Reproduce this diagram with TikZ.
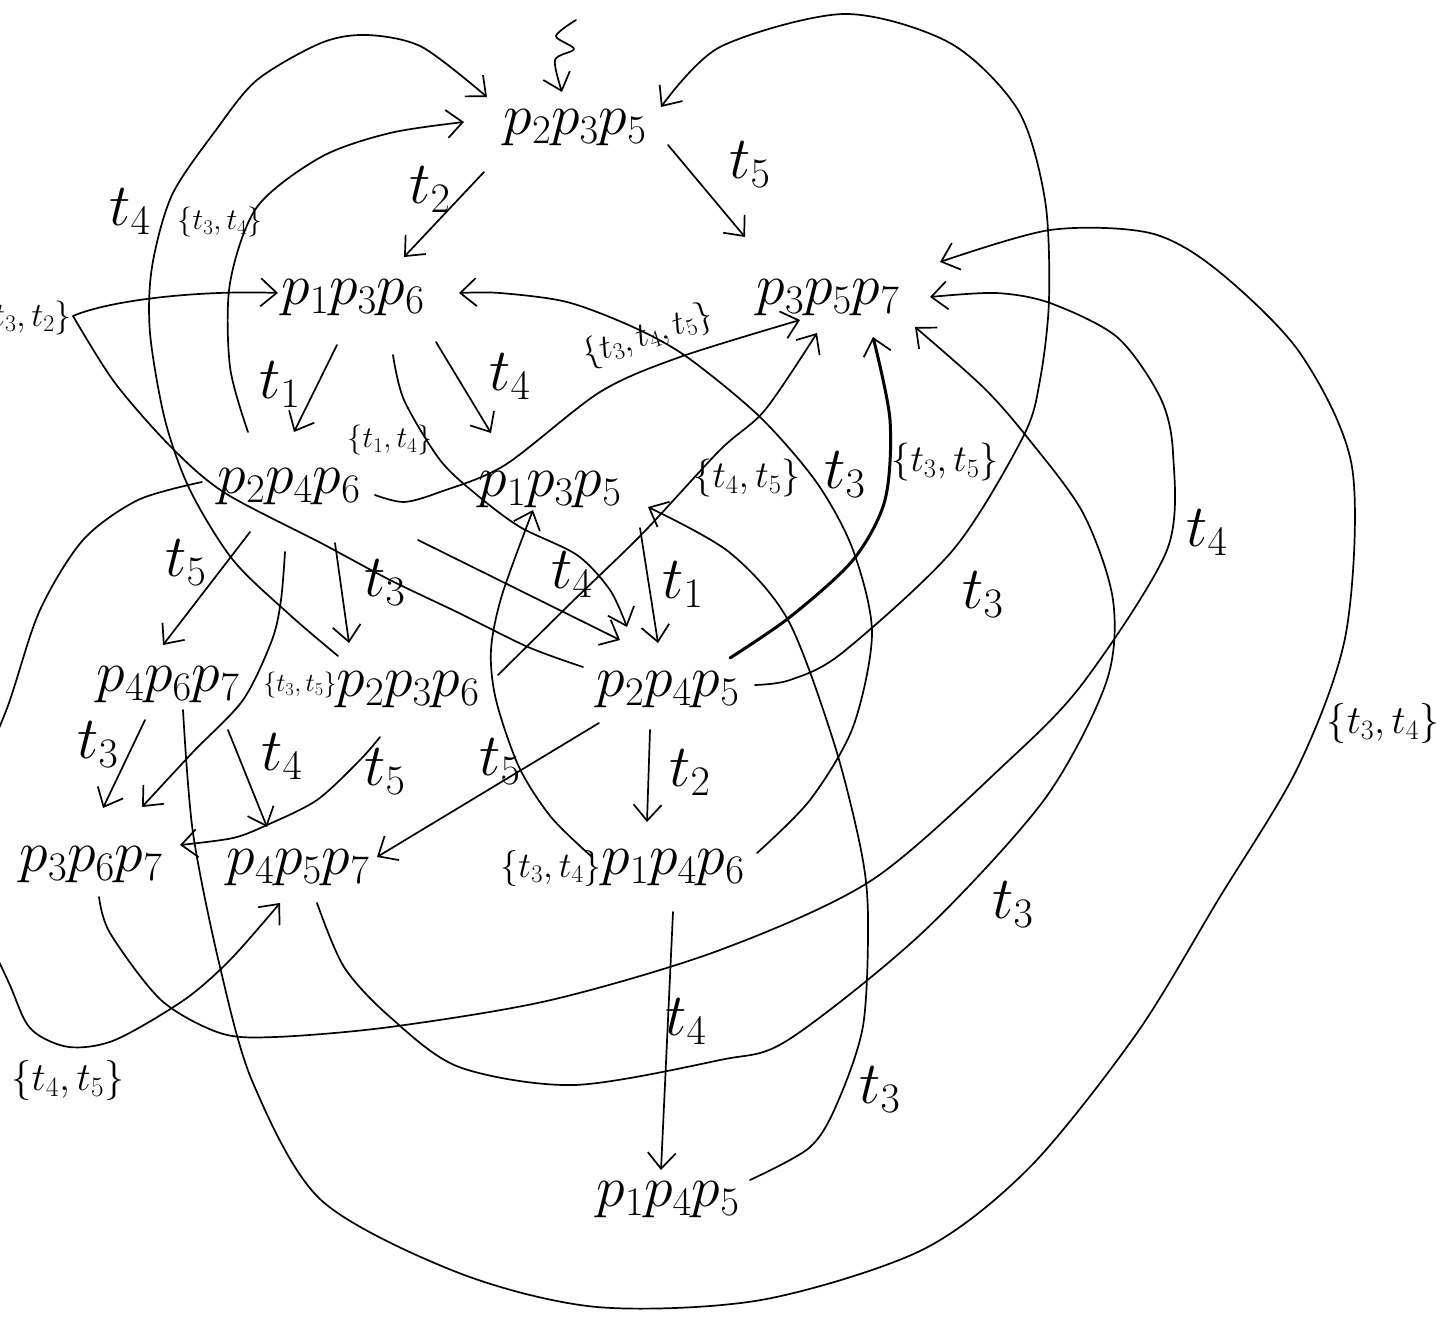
\documentclass[tikz,border=0pt]{standalone}
\usepackage{fix-cm}
\usetikzlibrary{arrows.meta,calc}
\begin{document}
\begin{tikzpicture}[x=1pt,y=-1pt,
  state/.style={inner sep=0pt, font=\fontsize{58}{62}\selectfont},
  lbl/.style={inner sep=0pt, font=\fontsize{60}{64}\selectfont},
  setlbl/.style={inner sep=0pt, font=\fontsize{#1}{#1}\selectfont},
  setlbl/.default=34,
  edge/.style={line width=1.7pt, line cap=round, line join=round,
    -{Straight Barb[length=16pt,width=28pt,line width=1.7pt]}},
  plain/.style={line width=1.7pt, line cap=round, line join=round},
  boldedge/.style={edge, line width=3pt},
]
\fill[white] (0,0) rectangle (1442,1317);
\useasboundingbox (0,0) rectangle (1442,1317);

% markings
\node[state] (A) at (575,128) {$p_2p_3p_5$};
\node[state] (B) at (353,298) {$p_1p_3p_6$};
\node[state] (C) at (828,298) {$p_3p_5p_7$};
\node[state] (D) at (289,487) {$p_2p_4p_6$};
\node[state] (E) at (550,490) {$p_1p_3p_5$};
\node[state] (F) at (168,685) {$p_4p_6p_7$};
\node[state] (G) at (408,690) {$p_2p_3p_6$};
\node[state] (H) at (668,690) {$p_2p_4p_5$};
\node[state] (I) at (91,865) {$p_3p_6p_7$};
\node[state] (J) at (298,868) {$p_4p_5p_7$};
\node[state] (K) at (673,868) {$p_1p_4p_6$};
\node[state] (L) at (668,1200) {$p_1p_4p_5$};

% initial marking
\coordinate (init) at (576,20);
\draw[edge] plot[smooth] coordinates {(init) (556,36) (574,49) (555,60) ($(A)+(-13,-36)$)};

% short steps
\draw[edge] ($(A)+(-91,44)$) -- ($(B)+(51,-41)$);
\draw[edge] ($(A)+(93,17)$) -- ($(C)+(-83,-61)$);
\draw[edge] ($(B)+(-16,47)$) -- ($(D)+(5,-55)$);
\draw[edge] ($(B)+(83,44)$) -- ($(E)+(-59,-57)$);
\draw[edge] ($(D)+(-39,45)$) -- ($(F)+(-5,-40)$);
\draw[edge] ($(D)+(46,56)$) -- ($(G)+(-59,-47)$);
\draw[edge] ($(D)+(129,53)$) -- ($(H)+(-48,-50)$);
\draw[edge] ($(E)+(90,38)$) -- ($(H)+(-10,-47)$);
\draw[edge] ($(F)+(-23,35)$) -- ($(I)+(12,-57)$);
\draw[edge] ($(F)+(60,45)$) -- ($(J)+(-31,-41)$);
\draw[edge] ($(H)+(-69,33)$) -- ($(J)+(79,-11)$);
\draw[edge] ($(H)+(-18,40)$) -- ($(K)+(-26,-46)$);
\draw[edge] ($(K)+(0,44)$) -- ($(L)+(-7,-30)$);

% curved steps
\draw[edge] plot[smooth] coordinates {($(B)+(40,57)$) (404,400) (440,460) (477,495) (520,527) (577,555) (610,590) ($(H)+(-41,-63)$)};
\draw[edge] plot[smooth] coordinates {($(D)+(-4,65)$) (281,600) (272,640) (243,700) (193,752) ($(I)+(51,-58)$)};
\draw[edge] plot[smooth] coordinates {($(D)+(-41,-55)$) (230,367) (230,283) (257,207) (321,157) (390,133) ($(A)+(-111,-6)$)};
\draw[edge] plot[smooth] coordinates {($(G)+(-70,-34)$) (290,615) (233,560) (190,490) (165,420) (150,333) (152,267) (172,195) (216,130) (257,80) (321,43) (367,35) (422,47) ($(A)+(-88,-31)$)};
\draw[edge] plot[smooth] coordinates {($(D)+(-87,-5)$) (138,500) (83,540) (40,610) (10,700) (-40,850) (12,990) (32,1030) (69,1047) (115,1040) (184,1000) (230,960) ($(J)+(-18,35)$)};
\draw[edge] plot[smooth] coordinates {($(D)+(86,8)$) (404,502) (440,492) (505,465) (600,392) (680,357) ($(C)+(-28,22)$)};
\draw[edge] plot[smooth] coordinates {($(F)+(15,25)$) (193,833) (220,967) (253,1083) (321,1200) (459,1273) (597,1307) (761,1300) (922,1250) (1030,1167) (1137,1033) (1218,900) (1298,767) (1346,633) (1352,467) (1300,353) (1217,270) (1150,233) (1050,230) ($(C)+(112,-36)$)};
\draw[edge] plot[smooth] coordinates {($(G)+(-28,47)$) (360,760) (317,800) (267,825) (233,838) ($(I)+(89,-20)$)};
\draw[edge] plot[smooth] coordinates {($(G)+(90,-15)$) (574,600) (643,533) (720,450) (765,410) ($(C)+(-11,35)$)};
\coordinate (bend) at (73,316);
\draw[plain] plot[smooth] coordinates {($(H)+(-85,-23)$) (528,647) (459,613) (390,580) (321,543) (225,493) (172,448) (115,383) (bend)};
\draw[edge] (bend) .. controls (110,300) and (200,290) .. ($(B)+(-75,-5)$);
\draw[edge] plot[smooth] coordinates {($(H)+(87,-5)$) (790,680) (842,653) (953,550) (1023,437) (1040,380) (1049,300) (1045,200) (1018,110) (950,43) (844,14) (720,47) ($(A)+(86,-21)$)};
\draw[boldedge] plot[smooth] coordinates {($(H)+(62,-32)$) (790,617) (853,560) (885,500) (890,420) ($(C)+(45,39)$)};
\draw[edge] plot[smooth] coordinates {($(K)+(-81,-11)$) (551,817) (519,767) (496,700) (491,650) (502,595) ($(E)+(-17,20)$)};
\draw[edge] plot[smooth] coordinates {($(K)+(84,-15)$) (810,800) (853,727) (872,633) (853,550) (817,483) (760,417) (687,357) (633,327) (567,302) (500,293) ($(B)+(106,-5)$)};
\draw[edge] plot[smooth] coordinates {($(L)+(82,-20)$) (809,1148) (836,1106) (863,1026) (868,917) (861,850) (834,743) (788,620) (729,552) ($(E)+(98,17)$)};
\draw[edge] plot[smooth] coordinates {($(I)+(8,32)$) (110,933) (161,1000) (220,1033) (275,1037) (390,1027) (551,1000) (720,950) (872,880) (1006,763) (1083,683) (1167,550) (1173,453) (1160,397) (1117,337) (1050,303) (996,293) ($(C)+(102,-1)$)};
\draw[edge] plot[smooth] coordinates {($(J)+(19,35)$) (344,967) (390,1017) (459,1067) (574,1085) (720,1060) (788,1040) (922,933) (1044,800) (1106,683) (1113,600) (1083,513) (1027,437) (983,387) ($(C)+(87,29)$)};

% step labels
\node[lbl] (l1) at (130,212) {$t_4$};
\node[setlbl=30] (l2) at (220,222) {$\{t_3,t_4\}$};
\node[lbl] (l3) at (430,190) {$t_2$};
\node[lbl] (l4) at (750,165) {$t_5$};
\node[setlbl, anchor=east] (l5) at (72,318) {$\{t_3,t_2\}$};
\node[lbl] (l6) at (280,385) {$t_1$};
\node[lbl] (l7) at (510,377) {$t_4$};
\node[setlbl=30] (l8) at (390,440) {$\{t_1,t_4\}$};
\node[setlbl=34, rotate=18] (l9) at (648,336) {$\{t_3,t_4,t_5\}$};
\node[setlbl=38] (l10) at (747,478) {$\{t_4,t_5\}$};
\node[lbl] (l11) at (845,475) {$t_3$};
\node[setlbl=38] (l12) at (945,462) {$\{t_3,t_5\}$};
\node[lbl] (l13) at (186,563) {$t_5$};
\node[lbl] (l14) at (385,583) {$t_3$};
\node[lbl] (l15) at (572,575) {$t_4$};
\node[lbl] (l16) at (683,585) {$t_1$};
\node[lbl] (l17) at (983,595) {$t_3$};
\node[lbl] (l18) at (1207,533) {$t_4$};
\node[setlbl=26] (l19) at (300,685) {$\{t_3,t_5\}$};
\node[lbl] (l20) at (98,745) {$t_3$};
\node[lbl] (l21) at (282,757) {$t_4$};
\node[lbl] (l22) at (385,772) {$t_5$};
\node[lbl] (l23) at (500,762) {$t_5$};
\node[lbl] (l24) at (690,773) {$t_2$};
\node[setlbl=36] (l25) at (551,868) {$\{t_3,t_4\}$};
\node[lbl] (l26) at (686,1022) {$t_4$};
\node[lbl] (l27) at (1013,905) {$t_3$};
\node[lbl] (l28) at (880,1090) {$t_3$};
\node[setlbl=40] (l29) at (1383,723) {$\{t_3,t_4\}$};
\node[setlbl=40] (l30) at (68,1080) {$\{t_4,t_5\}$};
\end{tikzpicture}
\end{document}
